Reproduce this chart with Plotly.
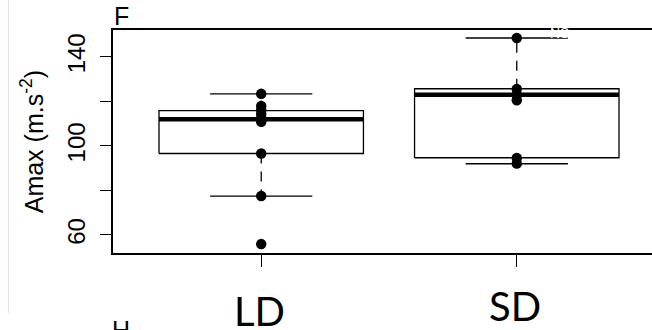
import plotly.graph_objects as go

# values
groups = ['LD', 'SD']
group_pos = [1, 2]
q1 = [96.6, 94.7]
median = [112.0, 123.0]
q3 = [115.9, 125.7]
whisker_low = [77.5, 92.0]
whisker_high = [123.4, 148.5]
ld_points = [123.4, 118.0, 116.2, 114.4, 112.6, 110.9, 96.6, 77.5, 55.9]
sd_points = [148.5, 125.6, 123.0, 120.5, 94.6, 92.1]
points = [ld_points, sd_points]
y_labelled_ticks = [60, 100, 140]
y_minor_ticks = [80, 120]

# the original R plot is wider than the window, its right side is cut off
W, H = 667, 330
ML, MR, MT, MB = 113, 0, 30, 77


def px_x(px):
    return (px - ML) / (W - ML - MR)


def px_y(py):
    return (H - MB - py) / (H - MT - MB)


box_half = 0.4
cap_half = 0.2

fig = go.Figure()

for i, pos in enumerate(group_pos):
    # whiskers (dashed)
    fig.add_trace(go.Scatter(
        x=[pos, pos, None, pos, pos],
        y=[q3[i], whisker_high[i], None, q1[i], whisker_low[i]],
        mode='lines', line=dict(color='black', width=1.3, dash='10px,8px'),
        hoverinfo='skip'))
    # whisker caps
    fig.add_trace(go.Scatter(
        x=[pos - cap_half, pos + cap_half, None, pos - cap_half, pos + cap_half],
        y=[whisker_high[i], whisker_high[i], None, whisker_low[i], whisker_low[i]],
        mode='lines', line=dict(color='black', width=1.3), hoverinfo='skip'))
    # box
    fig.add_trace(go.Scatter(
        x=[pos - box_half, pos + box_half, pos + box_half, pos - box_half, pos - box_half],
        y=[q1[i], q1[i], q3[i], q3[i], q1[i]],
        mode='lines', line=dict(color='black', width=1.3),
        fill='toself', fillcolor='white', hoverinfo='skip'))
    # median
    fig.add_trace(go.Scatter(
        x=[pos - box_half, pos + box_half], y=[median[i], median[i]],
        mode='lines', line=dict(color='black', width=4.5), hoverinfo='skip'))
    # individual points
    fig.add_trace(go.Scatter(
        x=[pos] * len(points[i]), y=points[i], mode='markers',
        marker=dict(color='black', size=10.5), hoverinfo='skip'))

fig.update_xaxes(
    range=[0.42, 2.58], tickvals=group_pos, showticklabels=False,
    ticks='outside', ticklen=12, tickwidth=1.3, tickcolor='black',
    showline=True, mirror=True, linecolor='black', linewidth=1.5,
    showgrid=False, zeroline=False)
fig.update_yaxes(
    range=[51.9, 152.1], tickvals=y_labelled_ticks,
    tickangle=-90, ticks='outside', ticklen=11, tickwidth=1.3, tickcolor='black',
    ticklabelstandoff=6, tickfont=dict(size=24),
    minor=dict(tickvals=y_minor_ticks, ticks='outside', ticklen=11,
               tickwidth=1.3, tickcolor='black', showgrid=False),
    showline=True, mirror=True, linecolor='black', linewidth=1.5,
    showgrid=False, zeroline=False)

annotations = [
    dict(text='Amax (m.s<sup>-2</sup>)', x=px_x(32), y=px_y(142), textangle=-90,
         font=dict(size=25), xanchor='center', yanchor='middle'),
    dict(text='F', x=px_x(112), y=px_y(16), font=dict(size=25),
         xanchor='left', yanchor='middle'),
    dict(text='H', x=px_x(110), y=px_y(314), font=dict(size=25),
         xanchor='left', yanchor='top'),
    dict(text='NS', x=px_x(561), y=px_y(33), font=dict(size=14, color='white'),
         xanchor='center', yanchor='middle'),
    dict(text=groups[0], x=px_x(260), y=px_y(311), font=dict(family='Lato', size=40),
         xanchor='center', yanchor='middle'),
    dict(text=groups[1], x=px_x(516), y=px_y(306), font=dict(family='Lato', size=40),
         xanchor='center', yanchor='middle'),
]
for a in annotations:
    a.update(xref='paper', yref='paper', showarrow=False)

fig.update_layout(
    width=W, height=H, margin=dict(l=ML, r=MR, t=MT, b=MB, pad=0),
    plot_bgcolor='white', paper_bgcolor='white', showlegend=False,
    font=dict(family='Liberation Sans, Arial, sans-serif', color='black'),
    annotations=annotations,
    shapes=[dict(type='line', xref='paper', yref='paper',
                 x0=px_x(8), x1=px_x(8), y0=px_y(0), y1=px_y(313),
                 line=dict(color='#e2e2e2', width=1))])

# drop the page's default body margin so the figure sits at the window's corner
fig.write_html('out.html', config={'displayModeBar': False},
               post_script="document.body.style.margin='0';"
                           "document.body.style.overflow='hidden';")
